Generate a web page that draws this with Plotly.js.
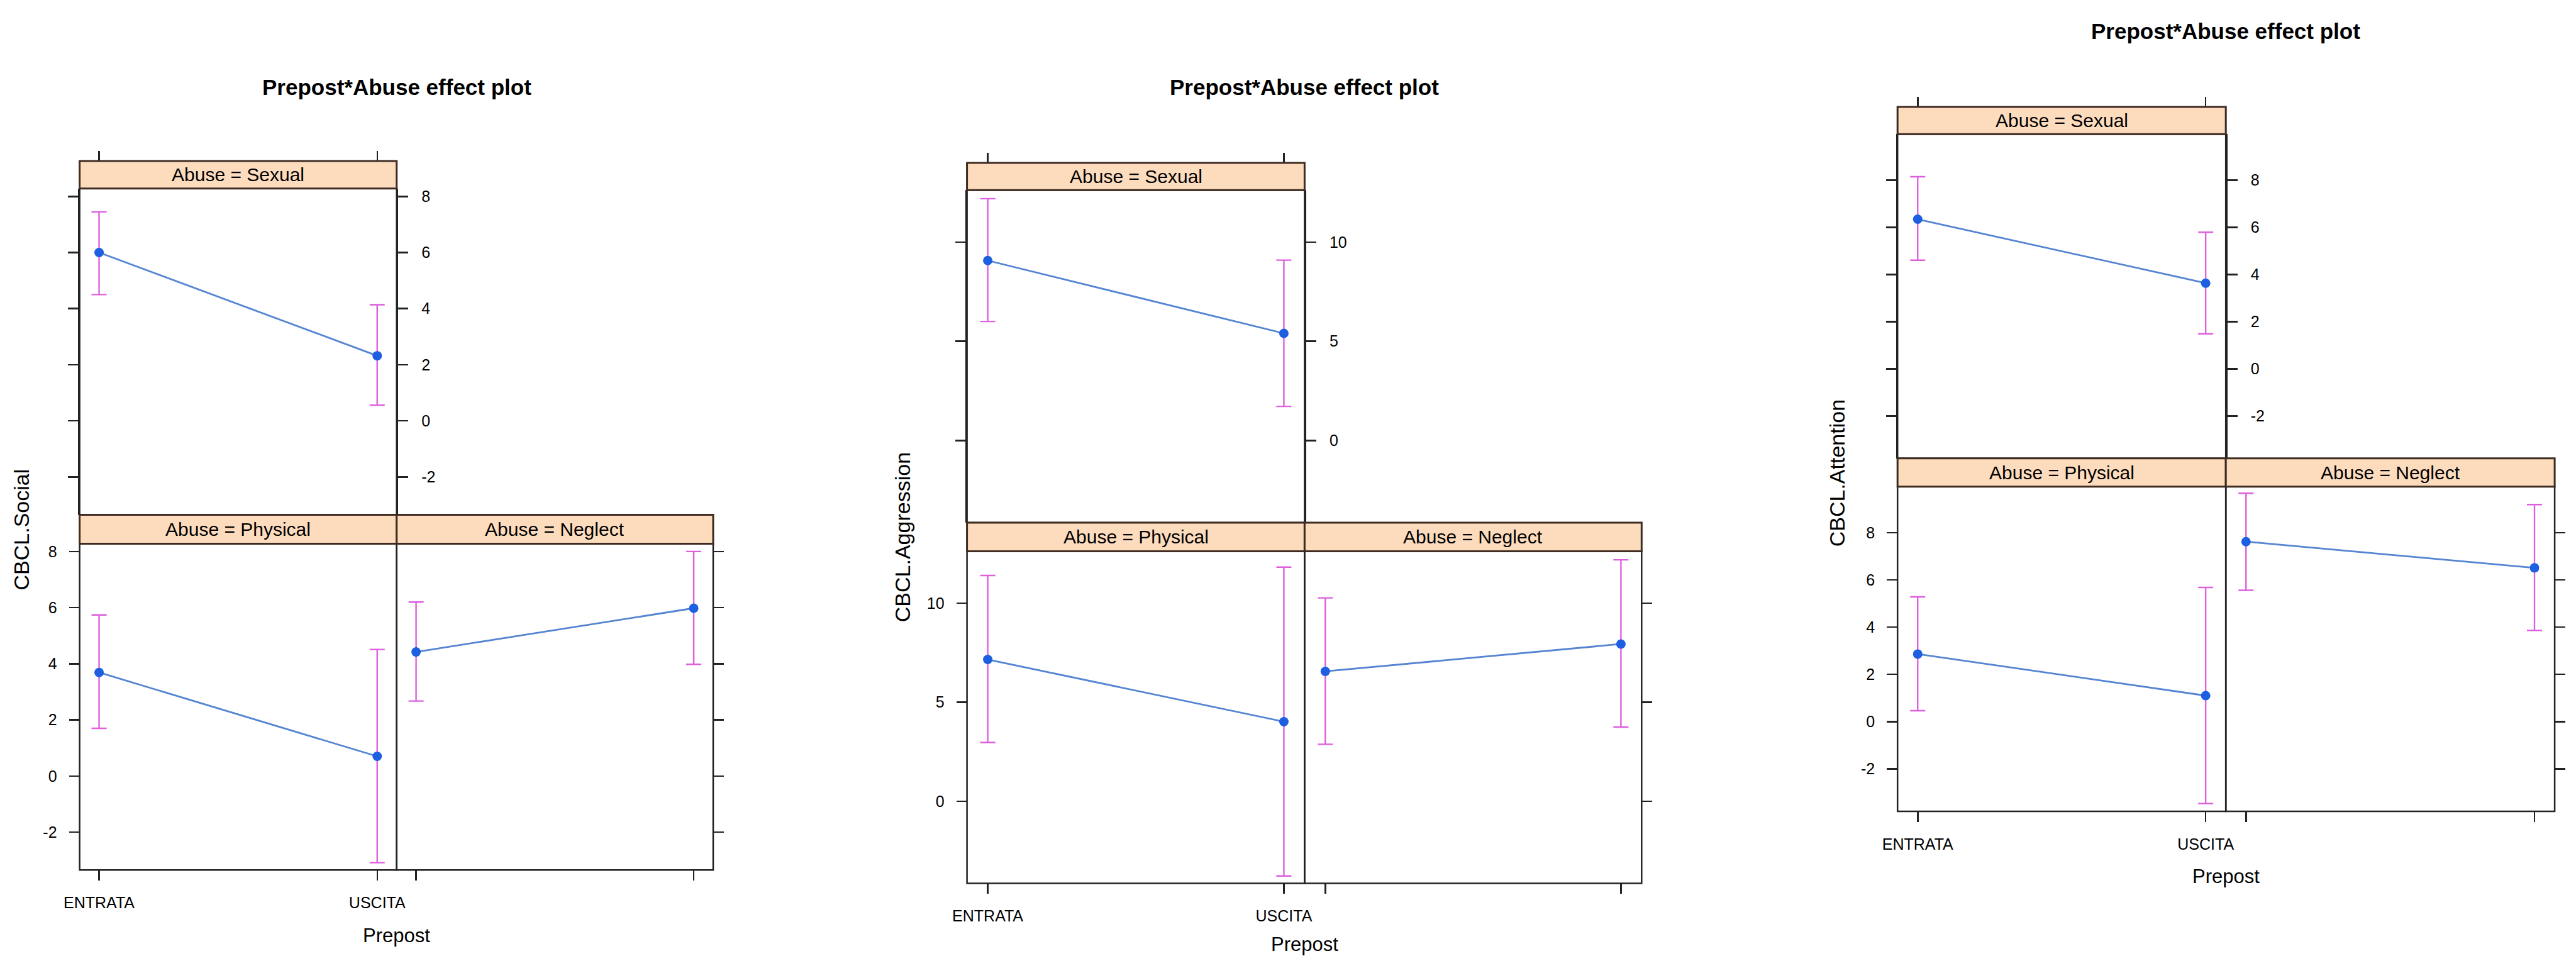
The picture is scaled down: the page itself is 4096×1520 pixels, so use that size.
<!DOCTYPE html>
<html>
<head>
<meta charset="utf-8">
<script src="https://cdn.plot.ly/plotly-3.0.1.min.js"></script>
<style>
html,body{margin:0;padding:0;background:#ffffff;overflow:hidden}
#chart{width:4096px;height:1520px}
</style>
</head>
<body>
<div id="chart"></div>
<script>
// ---------------- DATA ----------------
const categories = ["ENTRATA", "USCITA"];
const abuseLevels = ["Sexual", "Physical", "Neglect"];
const outcomes = ["CBCL.Social", "CBCL.Aggression", "CBCL.Attention"];
const chartTitle = "Prepost*Abuse effect plot";
const xAxisTitle = "Prepost";

// CBCL.Social
const socialSexualFit     = [6.00, 2.32];
const socialSexualLower   = [4.50, 0.56];
const socialSexualUpper   = [7.45, 4.14];
const socialPhysicalFit   = [3.69, 0.70];
const socialPhysicalLower = [1.70, -3.09];
const socialPhysicalUpper = [5.74, 4.51];
const socialNeglectFit    = [4.42, 5.98];
const socialNeglectLower  = [2.67, 3.98];
const socialNeglectUpper  = [6.20, 8.00];
const socialTicks = [-2, 0, 2, 4, 6, 8];

// CBCL.Aggression
const aggressionSexualFit     = [9.07, 5.40];
const aggressionSexualLower   = [6.00, 1.72];
const aggressionSexualUpper   = [12.19, 9.09];
const aggressionPhysicalFit   = [7.16, 4.02];
const aggressionPhysicalLower = [2.97, -3.77];
const aggressionPhysicalUpper = [11.40, 11.82];
const aggressionNeglectFit    = [6.56, 7.94];
const aggressionNeglectLower  = [2.88, 3.75];
const aggressionNeglectUpper  = [10.27, 12.19];
const aggressionTicks = [0, 5, 10];

// CBCL.Attention
const attentionSexualFit     = [6.34, 3.63];
const attentionSexualLower   = [4.60, 1.48];
const attentionSexualUpper   = [8.14, 5.79];
const attentionPhysicalFit   = [2.86, 1.10];
const attentionPhysicalLower = [0.46, -3.47];
const attentionPhysicalUpper = [5.28, 5.68];
const attentionNeglectFit    = [7.62, 6.51];
const attentionNeglectLower  = [5.56, 3.86];
const attentionNeglectUpper  = [9.67, 9.19];
const attentionTicks = [-2, 0, 2, 4, 6, 8];

// ---------------- STYLE / GEOMETRY ----------------
const W = 4096, H = 1520;
const FONT = "Liberation Sans, Arial, Helvetica, sans-serif";
const LINE_BLUE = "#5585d2";
const POINT_BLUE = "#1d5fe0";
const CI_PINK = "#dd5fdd";
const AXIS = "#222222";
const STRIP_FILL = "#fddcbe";
const STRIP_LINE = "#3e2c22";

const geom = [
  {L:126.6, M:630.7, R:1134.0, stripTop:256.1, plotTop:299.8, midStrip:818.6, plotTopB:864.4, plotBot:1383.2,
   titleY:138, labelX:33.5, labelY:842, prepostY:1487, range:[-3.35, 8.28]},
  {L:1537.6, M:2074.4, R:2610.3, stripTop:259.0, plotTop:302.3, midStrip:830.9, plotTopB:876.6, plotBot:1404.4,
   titleY:138, labelX:1434.6, labelY:854.6, prepostY:1501, range:[-4.14, 12.62]},
  {L:3017.2, M:3539.2, R:4062.1, stripTop:169.9, plotTop:213.2, midStrip:728.8, plotTopB:773.7, plotBot:1290.0,
   titleY:49.8, labelX:2920.8, labelY:752.5, prepostY:1393, range:[-3.80, 9.95]}
];

const panelSets = [
  {outcome: outcomes[0], ticks: socialTicks,
   fits:[socialSexualFit, socialPhysicalFit, socialNeglectFit],
   lowers:[socialSexualLower, socialPhysicalLower, socialNeglectLower],
   uppers:[socialSexualUpper, socialPhysicalUpper, socialNeglectUpper]},
  {outcome: outcomes[1], ticks: aggressionTicks,
   fits:[aggressionSexualFit, aggressionPhysicalFit, aggressionNeglectFit],
   lowers:[aggressionSexualLower, aggressionPhysicalLower, aggressionNeglectLower],
   uppers:[aggressionSexualUpper, aggressionPhysicalUpper, aggressionNeglectUpper]},
  {outcome: outcomes[2], ticks: attentionTicks,
   fits:[attentionSexualFit, attentionPhysicalFit, attentionNeglectFit],
   lowers:[attentionSexualLower, attentionPhysicalLower, attentionNeglectLower],
   uppers:[attentionSexualUpper, attentionPhysicalUpper, attentionNeglectUpper]}
];

const px = v => v / W;
const py = v => 1 - v / H;

const traces = [];
const layout = {
  width: W, height: H,
  margin: {l:0, r:0, t:0, b:0},
  paper_bgcolor: "#ffffff", plot_bgcolor: "#ffffff",
  showlegend: false,
  font: {family: FONT, color: "#000000"},
  shapes: [], annotations: []
};

panelSets.forEach((ps, c) => {
  const g = geom[c];
  const boxes = [
    {x0:g.L, x1:g.M, y0:g.plotTop,  y1:g.midStrip, s0:g.stripTop},
    {x0:g.L, x1:g.M, y0:g.plotTopB, y1:g.plotBot,  s0:g.midStrip},
    {x0:g.M, x1:g.R, y0:g.plotTopB, y1:g.plotBot,  s0:g.midStrip}
  ];
  boxes.forEach((b, k) => {
    const n = c * 3 + k + 1;
    const sfx = n === 1 ? "" : String(n);
    const xid = "x" + sfx, yid = "y" + sfx;
    const fit = ps.fits[k], lo = ps.lowers[k], up = ps.uppers[k];

    traces.push({
      type: "scatter", mode: "lines+markers",
      x: categories, y: fit,
      xaxis: xid, yaxis: yid,
      line: {color: LINE_BLUE, width: 2.8},
      marker: {color: POINT_BLUE, size: 15},
      error_y: {
        type: "data", symmetric: false,
        array: up.map((u, i) => u - fit[i]),
        arrayminus: fit.map((f, i) => f - lo[i]),
        color: CI_PINK, thickness: 2.4, width: 12
      },
      hoverinfo: "skip"
    });

    const common = {
      showgrid: false, zeroline: false,
      ticks: "outside", ticklen: 16, tickwidth: 2.5, tickcolor: AXIS,
      tickfont: {family: FONT, size: 25, color: "#000000"},
      linecolor: AXIS, linewidth: 2.5, fixedrange: true
    };
    const xa = Object.assign({}, common, {
      type: "category", domain: [px(b.x0), px(b.x1)], range: [-0.07, 1.07],
      anchor: yid, showline: false, showticklabels: k === 1,
      ticklabelstandoff: 14
    });
    const ya = Object.assign({}, common, {
      domain: [py(b.y1), py(b.y0)], range: g.range,
      tickmode: "array", tickvals: ps.ticks, ticktext: ps.ticks.map(String),
      anchor: xid, showline: false, showticklabels: k !== 2,
      side: k === 1 ? "left" : "right",
      ticklabelstandoff: 14
    });
    if (k === 0) {
      xa.side = "top"; xa.anchor = "free"; xa.position = py(b.s0);
      ya.showline = true; ya.mirror = "ticks";
      ya.ticklabelstandoff = 16;
    }
    layout["xaxis" + sfx] = xa;
    layout["yaxis" + sfx] = ya;

    // panel border
    layout.shapes.push({type:"rect", xref:"paper", yref:"paper",
      x0:px(b.x0), x1:px(b.x1), y0:py(b.y1), y1:py(b.y0),
      line:{color:AXIS, width:2.5}, fillcolor:"rgba(0,0,0,0)", layer:"above"});
    // strip
    layout.shapes.push({type:"rect", xref:"paper", yref:"paper",
      x0:px(b.x0), x1:px(b.x1), y0:py(b.y0), y1:py(b.s0),
      line:{color:STRIP_LINE, width:3}, fillcolor:STRIP_FILL, layer:"above"});
    layout.annotations.push({xref:"paper", yref:"paper",
      x:px((b.x0 + b.x1) / 2), y:py((b.s0 + b.y0) / 2),
      text:"Abuse = " + abuseLevels[k], showarrow:false,
      xanchor:"center", yanchor:"middle",
      font:{family:FONT, size:30, color:"#000000"}});
  });

  // chart title
  layout.annotations.push({xref:"paper", yref:"paper",
    x:px(g.M), y:py(g.titleY), text:"<b>" + chartTitle + "</b>", showarrow:false,
    xanchor:"center", yanchor:"middle", font:{family:FONT, size:35, color:"#000000"}});
  // x axis title
  layout.annotations.push({xref:"paper", yref:"paper",
    x:px(g.M), y:py(g.prepostY), text:xAxisTitle, showarrow:false,
    xanchor:"center", yanchor:"middle", font:{family:FONT, size:31, color:"#000000"}});
  // y axis title
  layout.annotations.push({xref:"paper", yref:"paper",
    x:px(g.labelX), y:py(g.labelY), text:ps.outcome, showarrow:false, textangle:-90,
    xanchor:"center", yanchor:"middle", font:{family:FONT, size:34, color:"#000000"}});
});

Plotly.newPlot("chart", traces, layout, {displayModeBar:false, staticPlot:true});
</script>
</body>
</html>
